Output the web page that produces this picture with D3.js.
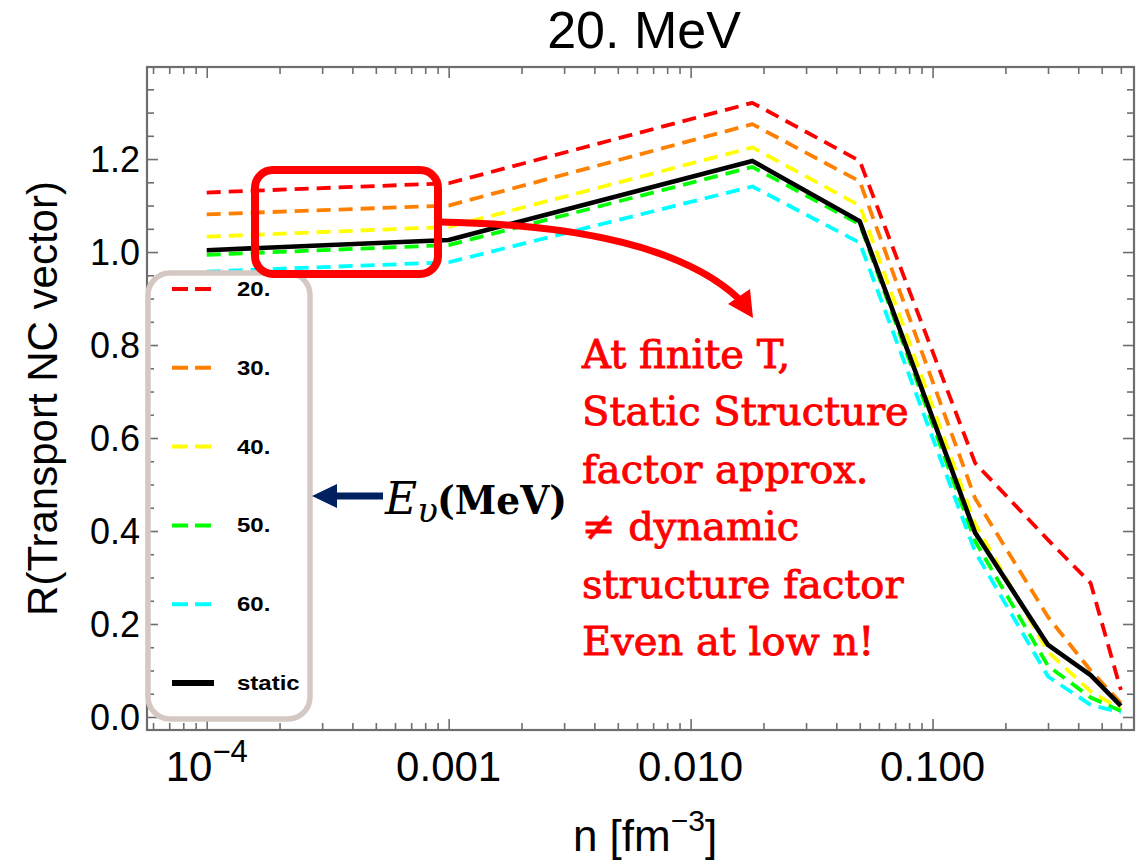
<!DOCTYPE html>
<html>
<head>
<meta charset="utf-8">
<script src="https://cdn.jsdelivr.net/npm/d3@7"></script>
<style>
  body { margin: 0; background: #fff; }
  svg { display: block; }
</style>
</head>
<body>
<svg id="chart" width="1136" height="862"></svg>
<script>
'use strict'

// density points n [fm^-3]
const density = [1e-4, 0.001, 0.018, 0.05, 0.15, 0.3, 0.45, 0.6]
// R for each neutrino energy (MeV) and the static approximation
const r20 = [1.128, 1.148, 1.321, 1.196, 0.546, 0.381, 0.288, 0.058]
const r30 = [1.081, 1.100, 1.275, 1.152, 0.470, 0.215, 0.100, 0.030]
const r40 = [1.033, 1.054, 1.225, 1.100, 0.415, 0.140, 0.055, 0.016]
const r50 = [0.994, 1.015, 1.183, 1.060, 0.378, 0.110, 0.042, 0.013]
const r60 = [0.958, 0.978, 1.141, 1.020, 0.355, 0.087, 0.026, 0.010]
const rStatic = [1.004, 1.026, 1.196, 1.066, 0.396, 0.155, 0.090, 0.024]

const seriesNames = ['20.', '30.', '40.', '50.', '60.', 'static']
const seriesColors = ['#ff0000', '#ff8000', '#ffff00', '#00ff00', '#00ffff', '#000000']

const xMajor = [1e-4, 1e-3, 1e-2, 1e-1]
const xLabels = [['10', '\u22124'], ['0.001'], ['0.010'], ['0.100']]
const yMajor = [0, 0.2, 0.4, 0.6, 0.8, 1.0, 1.2]
const yLabels = ['0.0', '0.2', '0.4', '0.6', '0.8', '1.0', '1.2']

const noteLines = ['At finite T,', 'Static Structure', 'factor approx.',
  '\u2260 dynamic', 'structure factor', 'Even at low n!']

const svg = d3.select('#chart')
const frame = {left: 147, top: 67, right: 1134, bottom: 730}
const axisColor = '#6e6e6e'

const x = d3.scaleLog()
  .domain([5.665e-5, 0.68])
  .range([frame.left, frame.right])
const y = d3.scaleLinear()
  .domain([-0.028, 1.398])
  .range([frame.bottom, frame.top])

// minor ticks
const xMinor = []
for (let e = -5; e <= -1; e++) {
  for (let m = 2; m <= 9; m++) {
    const v = m * Math.pow(10, e)
    if (v > x.domain()[0] && v < x.domain()[1]) xMinor.push(v)
  }
}
const yMinor = d3.range(0, 1.40, 0.05).filter(v => Math.abs(v / 0.2 - Math.round(v / 0.2)) > 1e-6)

function tickGroup(axis, tx, ty) {
  const g = svg.append('g')
    .attr('transform', `translate(${tx},${ty})`)
    .call(axis)
  g.select('.domain').remove()
  g.selectAll('line').attr('stroke', axisColor).attr('stroke-width', 1.6)
  g.selectAll('text').remove()
}

const bigT = -11, smallT = -7
tickGroup(d3.axisBottom(x).tickValues(xMajor).tickSize(bigT), 0, frame.bottom)
tickGroup(d3.axisBottom(x).tickValues(xMinor).tickSize(smallT), 0, frame.bottom)
tickGroup(d3.axisTop(x).tickValues(xMajor).tickSize(bigT), 0, frame.top)
tickGroup(d3.axisTop(x).tickValues(xMinor).tickSize(smallT), 0, frame.top)
tickGroup(d3.axisLeft(y).tickValues(yMajor).tickSize(bigT), frame.left, 0)
tickGroup(d3.axisLeft(y).tickValues(yMinor).tickSize(smallT), frame.left, 0)
tickGroup(d3.axisRight(y).tickValues(yMajor).tickSize(bigT), frame.right, 0)
tickGroup(d3.axisRight(y).tickValues(yMinor).tickSize(smallT), frame.right, 0)

svg.append('rect')
  .attr('x', frame.left).attr('y', frame.top)
  .attr('width', frame.right - frame.left).attr('height', frame.bottom - frame.top)
  .attr('fill', 'none').attr('stroke', axisColor).attr('stroke-width', 2.2)

// tick labels
const xl = svg.append('g')
  .attr('font-family', 'Liberation Sans, Arial, sans-serif')
  .attr('font-size', 42)
  .attr('text-anchor', 'middle')
xMajor.forEach((v, i) => {
  const t = xl.append('text').attr('x', x(v)).attr('y', 781)
  t.append('tspan').text(xLabels[i][0])
  if (xLabels[i][1]) t.append('tspan').attr('dy', -19).attr('font-size', 31).text(xLabels[i][1])
})

svg.append('g')
  .attr('font-family', 'Liberation Sans, Arial, sans-serif')
  .attr('font-size', 36)
  .attr('text-anchor', 'end')
  .selectAll('text')
  .data(yMajor)
  .join('text')
    .attr('x', 140)
    .attr('y', d => y(d) + 13)
    .text((d, i) => yLabels[i])

// axis titles
const xt = svg.append('text')
  .attr('x', 645).attr('y', 851)
  .attr('text-anchor', 'middle')
  .attr('font-family', 'Liberation Sans, Arial, sans-serif')
  .attr('font-size', 44)
xt.append('tspan').text('n [fm')
xt.append('tspan').attr('dy', -20).attr('font-size', 30).text('\u22123')
xt.append('tspan').attr('dy', 20).text(']')

svg.append('text')
  .attr('transform', `translate(57,${(frame.top + frame.bottom) / 2}) rotate(-90)`)
  .attr('text-anchor', 'middle')
  .attr('font-family', 'Liberation Sans, Arial, sans-serif')
  .attr('font-size', 42)
  .text('R(Transport NC vector)')

svg.append('text')
  .attr('x', 644).attr('y', 48)
  .attr('text-anchor', 'middle')
  .attr('font-family', 'Liberation Sans, Arial, sans-serif')
  .attr('font-size', 52)
  .text('20. MeV')

// curves
const allSeries = [r20, r30, r40, r50, r60, rStatic]
const line = d3.line()
  .x(d => x(d[0]))
  .y(d => y(d[1]))

svg.append('g')
  .selectAll('path')
  .data(allSeries)
  .join('path')
    .attr('fill', 'none')
    .attr('stroke', (d, i) => seriesColors[i])
    .attr('stroke-width', (d, i) => i === 5 ? 4.6 : 3.8)
    .attr('stroke-dasharray', (d, i) => i === 5 ? null : '14,8')
    .attr('stroke-linejoin', 'round')
    .attr('d', d => line(d.map((v, j) => [density[j], v])))

// legend
svg.append('rect')
  .attr('x', 148).attr('y', 273)
  .attr('width', 162).attr('height', 446)
  .attr('rx', 22)
  .attr('fill', 'none')
  .attr('stroke', '#d5c8c2')
  .attr('stroke-width', 5.5)

const legend = svg.append('g')
  .selectAll('g')
  .data(seriesNames)
  .join('g')
    .attr('transform', (d, i) => `translate(172,${289 + i * 78.8})`)

legend.append('line')
  .attr('x1', 0).attr('x2', (d, i) => i === 5 ? 42 : 39)
  .attr('stroke', (d, i) => seriesColors[i])
  .attr('stroke-width', (d, i) => i === 5 ? 6 : 4)
  .attr('stroke-dasharray', (d, i) => i === 5 ? null : '16,7')

legend.append('text')
  .attr('transform', 'translate(65,7) scale(1.2,1.05)')
  .attr('font-family', 'Liberation Sans, Arial, sans-serif')
  .attr('font-weight', 'bold')
  .attr('font-size', 20)
  .text(d => d)

// E_v arrow
svg.append('path')
  .attr('d', 'M383,496 L333,496')
  .attr('stroke', '#002060')
  .attr('stroke-width', 7)
svg.append('path')
  .attr('d', 'M312,496 L337,484 L337,508 Z')
  .attr('fill', '#002060')

const ev = svg.append('text')
  .attr('x', 385).attr('y', 514)
  .attr('font-family', 'DejaVu Serif, serif')
ev.append('tspan').attr('font-style', 'italic').attr('font-size', 44).text('E')
ev.append('tspan').attr('font-style', 'italic').attr('font-size', 34).attr('dy', 8).text('\u03c5')

svg.append('text')
  .attr('x', 437).attr('y', 514)
  .attr('font-family', 'DejaVu Serif, serif')
  .attr('font-weight', 'bold')
  .attr('font-size', 40)
  .attr('textLength', 130)
  .attr('lengthAdjust', 'spacingAndGlyphs')
  .text('(MeV)')

// red highlight box and curved arrow
svg.append('rect')
  .attr('x', 255).attr('y', 170)
  .attr('width', 183).attr('height', 104)
  .attr('rx', 18)
  .attr('fill', 'none')
  .attr('stroke', '#ff0000')
  .attr('stroke-width', 8)

svg.append('path')
  .attr('d', 'M440,222 Q660,226 738,298')
  .attr('fill', 'none')
  .attr('stroke', '#ff0000')
  .attr('stroke-width', 7)
svg.append('path')
  .attr('d', 'M753,318 L728,304 L750,289 Z')
  .attr('fill', '#ff0000')

svg.append('g')
  .attr('font-family', 'DejaVu Serif, serif')
  .attr('font-size', 40)
  .attr('fill', '#ff0000')
  .attr('stroke', '#ff0000')
  .attr('stroke-width', 0.9)
  .selectAll('text')
  .data(noteLines)
  .join('text')
    .attr('x', 582)
    .attr('y', (d, i) => 368 + i * 57.4)
    .text(d => d)
</script>
</body>
</html>
